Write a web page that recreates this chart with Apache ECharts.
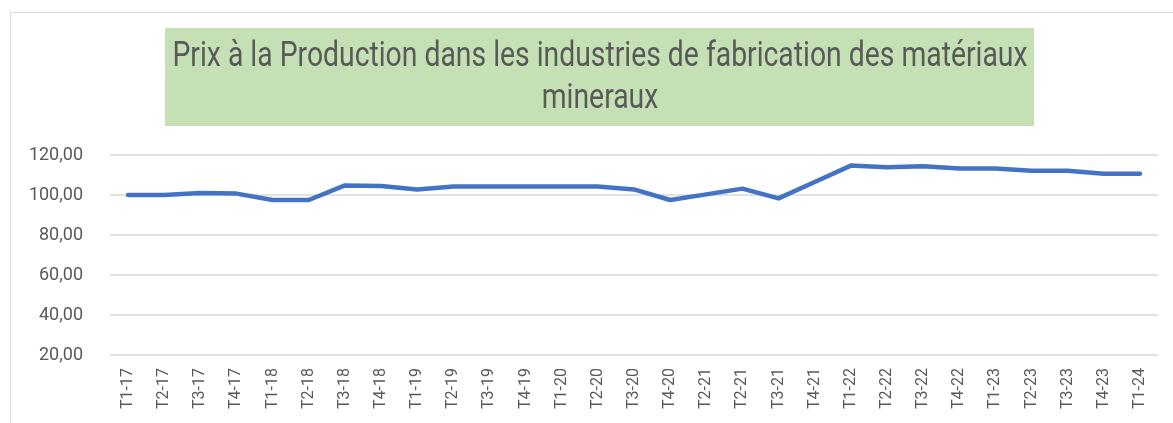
<!DOCTYPE html>
<html>
<head>
<meta charset="utf-8">
<script src="https://cdn.jsdelivr.net/npm/echarts@6/dist/echarts.min.js"></script>
<style>
  html, body { margin: 0; padding: 0; background: #fff; }
</style>
</head>
<body>
<div id="main" style="width: 1173px; height: 423px;"></div>
<script>
// quarters (labels as printed on the chart)
const quarters = [
  'T1-17', 'T2-17', 'T3-17', 'T4-17',
  'T1-18', 'T2-18', 'T3-18', 'T4-18',
  'T1-19', 'T2-19', 'T3-19', 'T4-19',
  'T1-20', 'T2-20', 'T3-20', 'T4-20',
  'T2-21', 'T2-21', 'T3-21', 'T4-21',
  'T1-22', 'T2-22', 'T3-22', 'T4-22',
  'T1-23', 'T2-23', 'T3-23', 'T4-23',
  'T1-24'
]
// production price index
const prix = [
  100.0, 100.0, 101.0, 100.7,
  97.5, 97.5, 104.8, 104.5,
  102.8, 104.3, 104.3, 104.3,
  104.3, 104.3, 102.8, 97.5,
  100.3, 103.2, 98.3, 106.5,
  114.7, 113.9, 114.4, 113.3,
  113.2, 112.1, 112.1, 110.6,
  110.6
]
const yTicks = [20, 40, 60, 80, 100, 120]

const titleLines = [
  'Prix à la Production dans les industries de fabrication des matériaux',
  'mineraux'
]
const narrow = 'Roboto, sans-serif'
const titleFont = '35px Roboto'

// squeeze title to the width of the original condensed font
const ctx = document.createElement('canvas').getContext('2d')
ctx.font = titleFont
const w1 = ctx.measureText(titleLines[0]).width
const sx = 855 / w1

const fmt = v => v.toFixed(2).replace('.', ',')

var myChart = echarts.init(document.getElementById('main'))
myChart.setOption({
  animation: false,
  backgroundColor: '#fff',
  graphic: [
    {
      type: 'rect',
      shape: { x: 10.5, y: 12.5, width: 1200, height: 500 },
      style: { fill: 'none', stroke: '#d9d9d9', lineWidth: 1 }
    },
    {
      type: 'rect',
      shape: { x: 165, y: 28, width: 869, height: 98 },
      style: { fill: '#C5E0B4' }
    },
    {
      type: 'text',
      x: 600, y: 57,
      scaleX: sx,
      style: {
        text: titleLines[0],
        font: titleFont,
        fill: '#595959',
        align: 'center',
        verticalAlign: 'middle'
      }
    },
    {
      type: 'text',
      x: 600, y: 99,
      scaleX: sx,
      style: {
        text: titleLines[1],
        font: titleFont,
        fill: '#595959',
        align: 'center',
        verticalAlign: 'middle'
      }
    }
  ],
  grid: { left: 110, right: 15, top: 155, bottom: 68 },
  xAxis: {
    type: 'category',
    data: quarters,
    axisLine: { show: false },
    axisTick: { show: false },
    axisLabel: {
      rotate: 90,
      margin: 13,
      interval: 0,
      color: '#595959',
      fontFamily: narrow,
      fontSize: 16
    }
  },
  yAxis: {
    type: 'value',
    min: yTicks[0],
    max: yTicks[yTicks.length - 1],
    interval: 20,
    axisLine: { show: false },
    axisTick: { show: false },
    splitLine: { lineStyle: { color: '#d9d9d9', width: 1.5 } },
    axisLabel: {
      margin: 27,
      color: '#595959',
      fontFamily: narrow,
      fontSize: 18,
      formatter: fmt
    }
  },
  series: [
    {
      type: 'line',
      data: prix,
      symbol: 'none',
      lineStyle: { color: '#4472C4', width: 4.5, cap: 'round', join: 'round' }
    }
  ]
})
</script>
</body>
</html>
